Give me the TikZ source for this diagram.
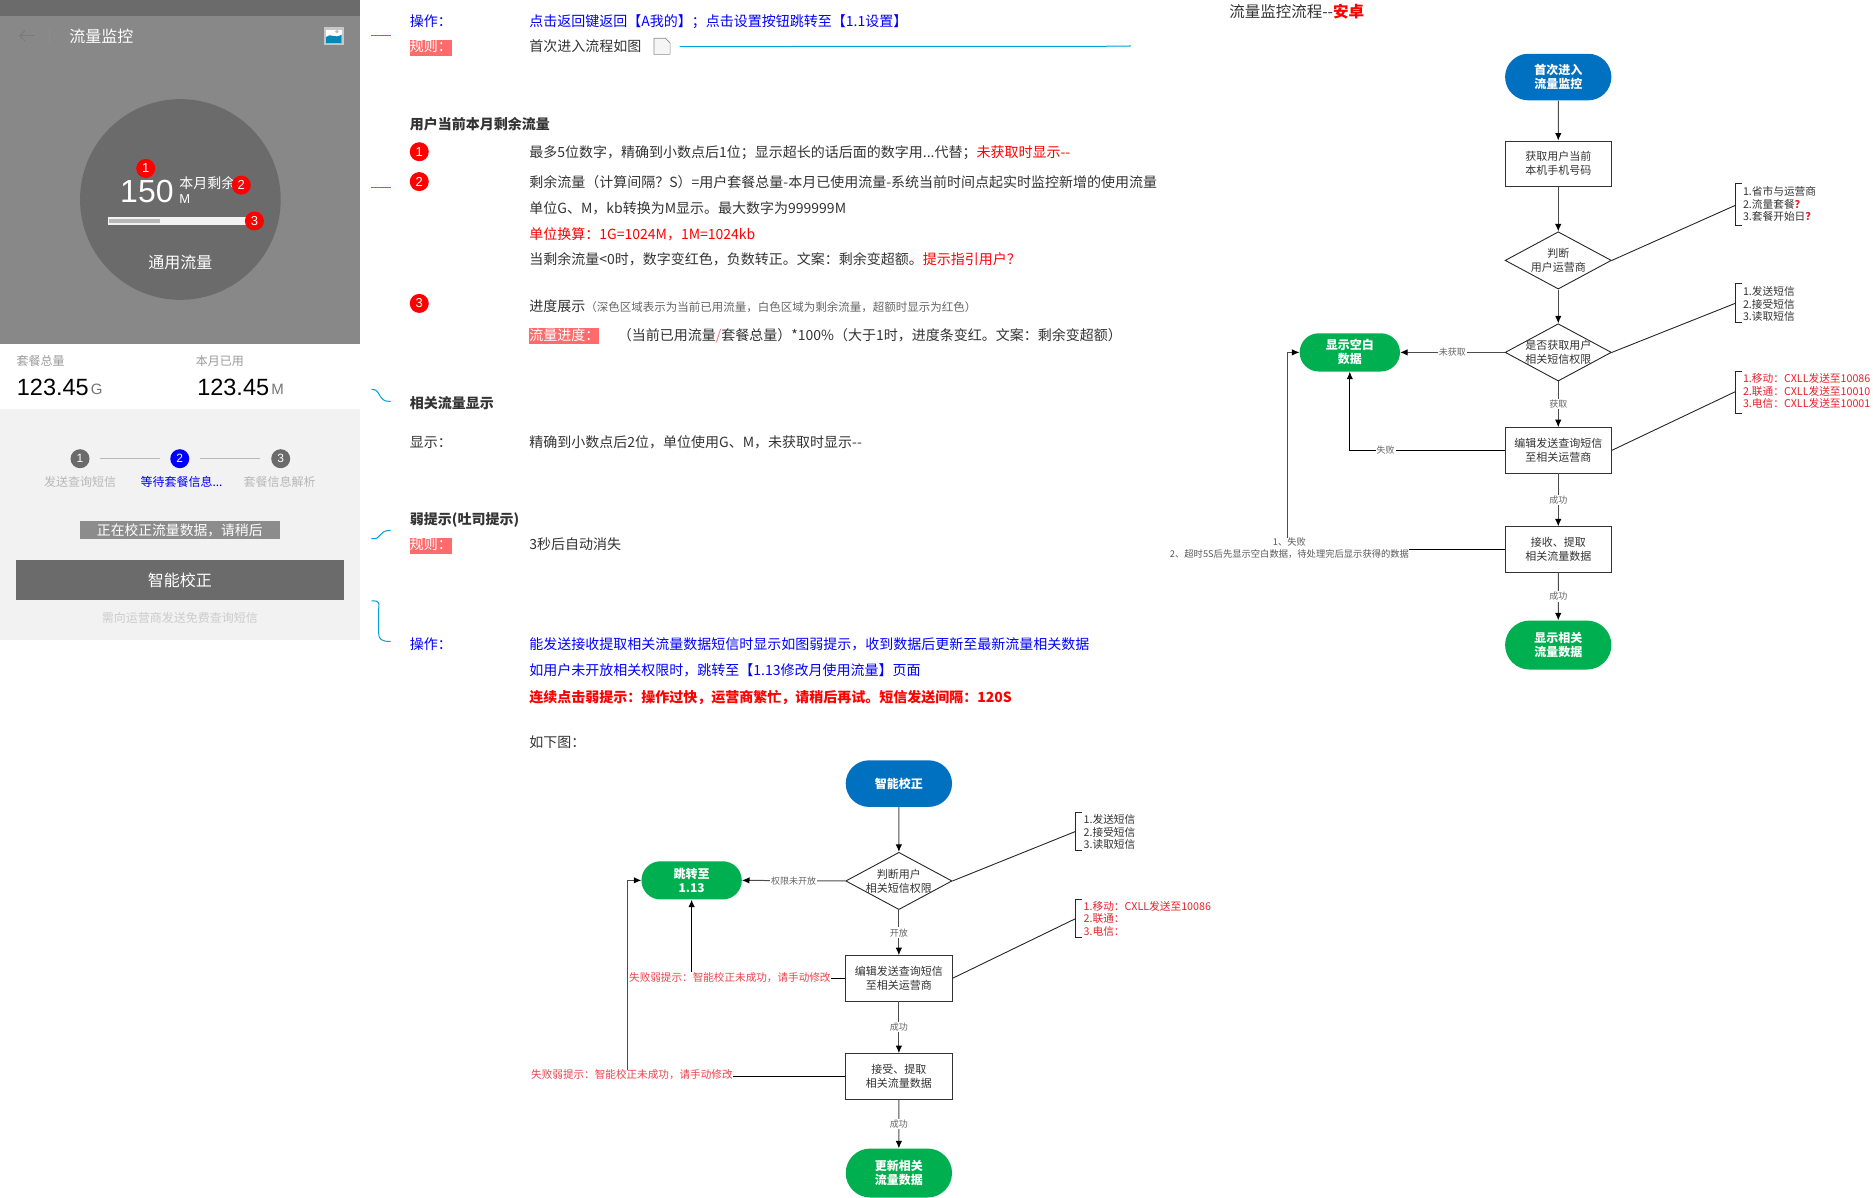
\documentclass[tikz,border=0pt]{standalone}
\usepackage{fontspec}
\setmainfont{Noto Sans CJK SC}
\newfontfamily\latfont{Liberation Sans}
\usetikzlibrary{arrows.meta,shapes.geometric,shapes.misc}
\definecolor{phgray}{HTML}{888888}
\definecolor{phdark}{HTML}{6B6B6B}
\definecolor{phlight}{HTML}{F2F2F2}
\definecolor{txt}{HTML}{333333}
\definecolor{hl}{HTML}{FF6B6B}
\definecolor{cyanline}{HTML}{00A0DC}
\definecolor{fblue}{HTML}{0070C0}
\definecolor{fgreen}{HTML}{00B050}
\definecolor{fred}{HTML}{E8202A}
\newcommand\fsz[2]{\fontsize{#1pt}{#2pt}\selectfont}
\newcommand\rd[1]{{\color{red}#1}}
\tikzset{
  x=1.19452pt,y=-1.19452pt,
  tl/.style={anchor=west,inner sep=0pt,yshift=-1.7pt,text height=11pt,text depth=3pt,font=\fsz{14}{17},text=txt},
  tlb/.style={tl,font=\fsz{14}{17}\bfseries},
  tlblue/.style={tl,text=blue},
  hltx/.style={tl,fill=hl,text=white,inner ysep=1pt},
  badge/.style={circle,fill=red,text=white,inner sep=0pt,minimum size=19pt,font=\latfont\fsz{13}{15}},
  stepdot/.style={circle,fill=phdark,text=white,inner sep=0pt,minimum size=19pt,font=\latfont\fsz{12}{14}},
  phtx/.style={inner sep=0pt,text=white,font=\fsz{16}{19}},
  steptx/.style={inner sep=0pt,text=black!28,font=\fsz{12}{14}},
  pill/.style n args={3}{rounded rectangle,fill=#3,draw=none,inner sep=0pt,text=white,align=center,font=\fsz{12}{14}\bfseries,minimum width=#1*1.19452pt,minimum height=#2*1.19452pt},
  fbox/.style 2 args={rectangle,draw=black!80,line width=.9pt,fill=white,inner sep=0pt,text=txt,align=center,font=\fsz{11}{14},minimum width=#1*1.19452pt,minimum height=#2*1.19452pt},
  dec/.style={diamond,draw=black!85,line width=.9pt,inner sep=0pt,aspect=1.854,minimum width=106.3pt,minimum height=57.3pt},
  dtx/.style={inner sep=0pt,text=txt,align=center,font=\fsz{11}{14}},
  elab/.style={fill=white,inner sep=1pt,text=black!60,font=\fsz{9}{11}},
  redlab/.style={inner sep=0pt,text=fred!85,font=\fsz{10.6}{12}},
  ln/.style={draw=black!70,line width=1pt},
  arr/.style={ln,-{Latex[length=7.5pt,width=6.5pt,black]}},
  brtx/.style={anchor=west,inner sep=0pt,align=left,text=txt,font=\fsz{10.7}{12.6}},
  brk/.style={draw=black!85,line width=.9pt},
  cy/.style={draw=cyanline,line width=1pt}
}
\begin{document}
\begin{tikzpicture}
\useasboundingbox (0,0) rectangle (1568,1002.9);
% --- phone ---
\fill[phdark] (0,0) rectangle (301,13);
\fill[phgray] (0,13) rectangle (301,288);
\fill[phlight] (0,342) rectangle (301,536);
\draw[phdark!90,line width=1pt,-{Straight Barb[length=5pt,width=10pt]}] (29,30) -- (16,30);
\draw[black!45,line width=.6pt] (41,23) -- (41,37);
\node[phtx,anchor=west] (ptitle) at (58,30.5) {流量监控};
\fill[black!22] (271,23) rectangle (288,38);
\fill[white] (273,25) rectangle (286,36);
\fill[cyanline!85!black] (273,36) -- (273,31) .. controls (277,27) and (280,33) .. (286,29) -- (286,36) -- cycle;
\fill[black!25] (282,26.5) circle[radius=1.6];
\node[circle,fill=phdark,inner sep=0pt,minimum size=200.7pt] (dial) at (151,167) {};
\node[inner sep=0pt,text=white,font=\latfont\fsz{32}{35}] (num) at (123,160.5) {150};
\node[phtx,anchor=west,font=\fsz{14}{16}] (rem) at (150,153.5) {本月剩余};
\node[phtx,anchor=west,font=\latfont\fsz{13}{15}] (munit) at (150,167) {M};
\fill[phlight] (90,182) rectangle (206,188);
\fill[black!28] (91,183) rectangle (134,187);
\node[badge] (pb1) at (122,141) {1};
\node[badge] (pb2) at (202,155) {2};
\node[badge] (pb3) at (213,185) {3};
\node[phtx] (gen) at (151,219.5) {通用流量};
\node[inner sep=0pt,text=black!40,font=\fsz{12}{14}] (tot) at (34,302.5) {套餐总量};
\node[inner sep=0pt,anchor=west,text=black,font=\latfont\fsz{23.5}{26}] (totv) at (14,324) {123.45};
\node[inner sep=0pt,anchor=west,text=black!55,font=\latfont\fsz{15}{17}] (totu) at (76,326) {G};
\node[inner sep=0pt,text=black!40,font=\fsz{12}{14}] (used) at (184,302.5) {本月已用};
\node[inner sep=0pt,anchor=west,text=black,font=\latfont\fsz{23.5}{26}] (usedv) at (165,324) {123.45};
\node[inner sep=0pt,anchor=west,text=black!55,font=\latfont\fsz{15}{17}] (usedu) at (227,326) {M};
\node[stepdot] (s1) at (67,384) {1};
\node[stepdot,fill=blue] (s2) at (150.5,384) {2};
\node[stepdot] (s3) at (235,384) {3};
\draw[black!28,line width=.8pt] (s1) ++(17,0) -- +(50,0);
\draw[black!28,line width=.8pt] (s2) ++(17,0) -- +(50,0);
\node[steptx] (st1) at (67,403.5) {发送查询短信};
\node[steptx,text=blue] (st2) at (152,403.5) {等待套餐信息...};
\node[steptx] (st3) at (234,403.5) {套餐信息解析};
\fill[black!45] (67,436) rectangle (234,451);
\node[phtx,font=\fsz{13.8}{16}] (toast) at (150.5,444) {正在校正流量数据，请稍后};
\fill[phdark] (13,469) rectangle (288,502);
\node[phtx] (btn) at (150.5,486) {智能校正};
\node[inner sep=0pt,text=black!20,font=\fsz{12}{14}] (hint) at (150.5,517.5) {需向运营商发送免费查询短信};
% --- connector stubs ---
\coordinate (c1a) at (311,30); \coordinate (c1b) at (327,30);
\coordinate (c2a) at (311,157); \coordinate (c2b) at (327,157);
\coordinate (c3a) at (311,326); \coordinate (c3b) at (327,336);
\coordinate (c4a) at (311,451); \coordinate (c4b) at (327,444);
\coordinate (c5a) at (311,503); \coordinate (c5b) at (327,537);
\draw[cy] (c1a) -- (c1b);
\draw[cy] (c2a) -- (c2b);
\draw[cy] (c3a) .. controls (319,325) and (316,337) .. (c3b);
\draw[cy] (c4a) .. controls (320,452) and (316,444) .. (c4b);
\draw[cy] (c5a) .. controls (319,503) and (317,505) .. (317,510) -- (317,530) .. controls (317,535) and (319,537) .. (c5b);
% --- text column ---
\node[tlblue] (op1) at (343,17) {操作：};
\node[tlblue] (op1t) at (443,17) {点击返回键返回【A我的】；点击设置按钮跳转至【1.1设置】};
\node[hltx] (ru1) at (343,38.5) {规则：};
\node[tl] (ru1t) at (443,38) {首次进入流程如图};
\filldraw[draw=black!45,fill=black!4,line width=.7pt] (547.5,32) -- (557,32) -- (561,36) -- (561,45.5) -- (547.5,45.5) -- cycle;
\coordinate (docend) at (569,39); \coordinate (lineend) at (946,38.7);
\draw[cy] (docend) -- (lineend) -- ++(0,-1);
\node[tlb] (h1) at (343,104) {用户当前本月剩余流量};
\node[badge] (b1) at (351,127) {1};
\node[tl] (l1) at (443,127) {最多5位数字，精确到小数点后1位；显示超长的话后面的数字用...代替；\rd{未获取时显示-{}-}};
\node[badge] (b2) at (351,152) {2};
\node[tl] (l2) at (443,152) {剩余流量（计算间隔？S）=用户套餐总量-本月已使用流量-系统当前时间点起实时监控新增的使用流量};
\node[tl] (l3) at (443,174) {单位G、M，kb转换为M显示。最大数字为999999M};
\node[tl,text=red] (l4) at (443,196) {单位换算：1G=1024M，1M=1024kb};
\node[tl] (l5) at (443,217) {当剩余流量<0时，数字变红色，负数转正。文案：剩余变超额。\rd{提示指引用户？}};
\node[badge] (b3) at (351,254) {3};
\node[tl] (l6) at (443,256) {进度展示{\color{black!60}\fsz{11.5}{14}（深色区域表示为当前已用流量，白色区域为剩余流量，超额时显示为红色）}};
\node[hltx] (l7a) at (443,280) {流量进度：};
\node[tl] (l7) at (517,280) {（当前已用流量{\color{hl}/}套餐总量）*100\%（大于1时，进度条变红。文案：剩余变超额）};
\node[tlb] (h2) at (343,337) {相关流量显示};
\node[tl] (d1a) at (343,370) {显示：};
\node[tl] (d1b) at (443,370) {精确到小数点后2位，单位使用G、M，未获取时显示-{}-};
\node[tlb] (h3) at (343,434) {弱提示(吐司提示)};
\node[hltx] (ru2) at (343,455.5) {规则：};
\node[tl] (ru2t) at (443,455) {3秒后自动消失};
\node[tlblue] (op2) at (343,539) {操作：};
\node[tlblue] (op2a) at (443,539) {能发送接收提取相关流量数据短信时显示如图弱提示，收到数据后更新至最新流量相关数据};
\node[tlblue] (op2b) at (443,561) {如用户未开放相关权限时，跳转至【1.13修改月使用流量】页面};
\node[tl,text=red,font=\fsz{14}{17}\bfseries] (op2c) at (443,583) {连续点击弱提示：操作过快，运营商繁忙，请稍后再试。短信发送间隔：120S};
\node[tl] (below) at (443,621) {如下图：};
% --- flow A ---
\node[pill={89}{39}{fblue}] (a0) at (752.5,656) {智能校正};
\node[dec,label={[dtx]center:判断用户\\相关短信权限}] (a1) at (752.5,737.5) {};
\node[pill={84}{32}{fgreen}] (aj) at (579,737) {跳转至\\1.13};
\node[fbox={89}{38}] (a2) at (752.5,819) {编辑发送查询短信\\至相关运营商};
\node[fbox={89}{38}] (a3) at (752.5,901) {接受、提取\\相关流量数据};
\node[pill={89}{41}{fgreen}] (a4) at (752.5,982) {更新相关\\流量数据};
\draw[arr] (a0) -- (a1);
\draw[arr] (a1.west) -- node[elab] (ae1) {权限未开放} (aj.east);
\draw[arr] (a1.south) -- node[elab] (ae2) {开放} (a2.north);
\draw[arr] (a2) -- node[elab] (ae3) {成功} (a3);
\draw[arr] (a3) -- node[elab] (ae4) {成功} (a4);
\node[redlab] (af1) at (611,818) {失败弱提示：智能校正未成功，请手动修改};
\node[redlab] (af2) at (529,900) {失败弱提示：智能校正未成功，请手动修改};
\draw[ln,black] (a2.west) -- (af1.east |- a2.west);
\draw[arr,black] (af1.north -| aj.south) -- (aj.south);
\draw[ln,black] (a3.west) -- (af2.east |- a3.west);
\draw[arr] ([xshift=-4pt]af2.north) |- (aj.west);
\draw[brk] (906,680) -- (900.5,680) -- (900.5,712) -- (906,712);
\coordinate (abr1) at (900.5,696);
\node[brtx] (abt1) at (907,696.5) {1.发送短信\\2.接受短信\\3.读取短信};
\draw[brk] (a1.east) -- (abr1);
\draw[brk] (906,753) -- (900.5,753) -- (900.5,785) -- (906,785);
\coordinate (abr2) at (900.5,769);
\node[brtx,text=fred] (abt2) at (907,769) {1.移动：CXLL发送至10086\\2.联通：\\3.电信：};
\draw[brk] (a2.east) -- (abr2);
% --- flow B ---
\node[anchor=west,inner sep=0pt,text=txt,font=\fsz{15.5}{18}] (title) at (1029,9.5) {流量监控流程-{}-{\color{red}\bfseries 安卓}};
\node[pill={89}{39}{fblue}] (b0) at (1304.5,64.5) {首次进入\\流量监控};
\node[fbox={89}{38}] (b1x) at (1304.5,137) {获取用户当前\\本机手机号码};
\node[dec,label={[dtx]center:判断\\用户运营商}] (b2x) at (1304.5,218) {};
\node[dec,label={[dtx]center:是否获取用户\\相关短信权限}] (b3x) at (1304.5,295) {};
\node[pill={84}{32}{fgreen}] (bp) at (1130,295) {显示空白\\数据};
\node[fbox={89}{38}] (b4x) at (1304.5,377) {编辑发送查询短信\\至相关运营商};
\node[fbox={89}{38}] (b5x) at (1304.5,460) {接收、提取\\相关流量数据};
\node[pill={89}{41}{fgreen}] (b6x) at (1304.5,540) {显示相关\\流量数据};
\draw[arr] (b0) -- (b1x);
\draw[arr] (b1x) -- (b2x);
\draw[arr] (b2x.south) -- (b3x.north);
\draw[arr] (b3x.west) -- node[elab] (be1) {未获取} (bp.east);
\draw[arr] (b3x.south) -- node[elab] (be2) {获取} (b4x.north);
\draw[arr] (b4x) -- node[elab] (be3) {成功} (b5x);
\draw[arr] (b5x) -- node[elab] (be4) {成功} (b6x);
\draw[arr,black] (b4x.west) -| node[elab,pos=.384] (be5) {失败} (bp.south);
\node[inner sep=0pt,align=center,text=black!65,font=\fsz{9.3}{12}] (bf) at (1079.5,459) {1、失败\\2、超时5S后先显示空白数据，待处理完后显示获得的数据};
\draw[ln,black] (b5x.west) -- (bf.east |- b5x.west);
\draw[arr] ([xshift=-1.8pt]bf.north) |- (bp.west);
\draw[brk] (1458,153.5) -- (1452.5,153.5) -- (1452.5,189) -- (1458,189);
\coordinate (bbr1) at (1452.5,172);
\node[brtx] (bbt1) at (1459,171) {1.省市与运营商\\2.流量套餐{\color{fred}\bfseries ？}\\3.套餐开始日{\color{fred}\bfseries ？}};
\draw[brk] (b2x.east) -- (bbr1);
\draw[brk] (1458,237) -- (1452.5,237) -- (1452.5,270) -- (1458,270);
\coordinate (bbr2) at (1452.5,254);
\node[brtx] (bbt2) at (1459,254.5) {1.发送短信\\2.接受短信\\3.读取短信};
\draw[brk] (b3x.east) -- (bbr2);
\draw[brk] (1458,311) -- (1452.5,311) -- (1452.5,346) -- (1458,346);
\coordinate (bbr3) at (1452.5,328);
\node[brtx,text=fred] (bbt3) at (1459,327.5) {1.移动：CXLL发送至10086\\2.联通：CXLL发送至10010\\3.电信：CXLL发送至10001};
\draw[brk] (b4x.east) -- (bbr3);
\end{tikzpicture}
\end{document}
